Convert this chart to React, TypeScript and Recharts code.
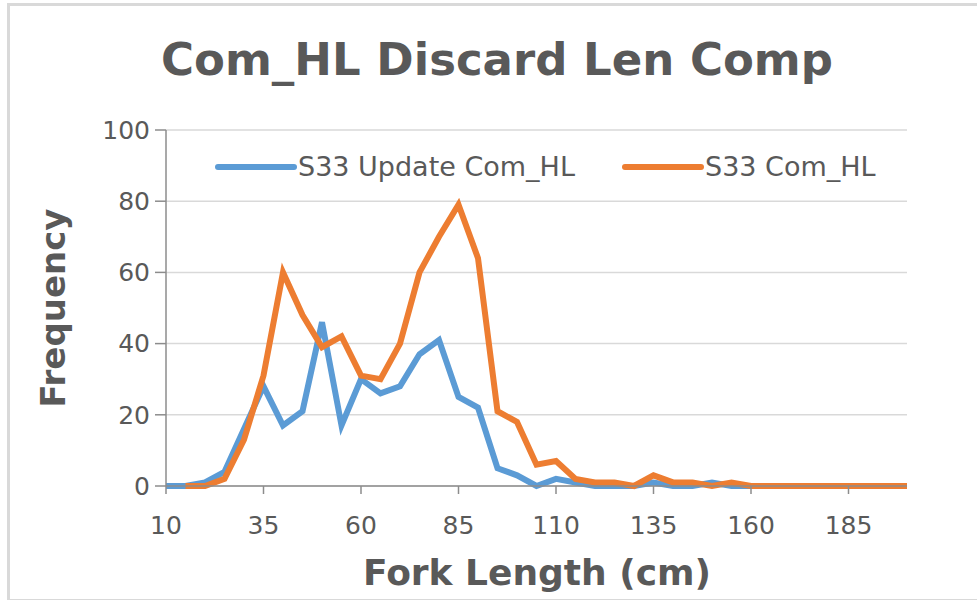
import { LineChart, Line, XAxis, YAxis, CartesianGrid } from 'recharts'

const lengths = [
  10, 15, 20, 25, 30, 35, 40, 45, 50, 55, 60, 65, 70, 75, 80, 85, 90, 95, 100, 105,
  110, 115, 120, 125, 130, 135, 140, 145, 150, 155, 160, 165, 170, 175, 180, 185, 190, 195, 200,
]

const updateComHL = [
  0, 0, 1, 4, 16, 28, 17, 21, 46, 17, 30, 26, 28, 37, 41, 25, 22, 5, 3, 0,
  2, 1, 0, 0, 0, 1, 0, 0, 1, 0, 0, 0, 0, 0, 0, 0, 0, 0, 0,
]

const comHL = [
  null, 0, 0, 2, 13, 31, 60, 48, 39, 42, 31, 30, 40, 60, 70, 79, 64, 21, 18, 6,
  7, 2, 1, 1, 0, 3, 1, 1, 0, 1, 0, 0, 0, 0, 0, 0, 0, 0, 0,
]

const yTicks = [0, 20, 40, 60, 80, 100]

const series = [
  { key: 'update', name: 'S33 Update Com_HL', color: '#5B9BD5' },
  { key: 'com', name: 'S33 Com_HL', color: '#ED7D31' },
]

const data = lengths.map((len, i) => ({ len, update: updateComHL[i], com: comHL[i] }))

const textColor = '#595959'
const font = '"DejaVu Sans", sans-serif'

// legend entry positions, matched to the picture
const legendX = [218, 625]

export default function App() {
  return (
    <div style={{ position: 'absolute', left: 0, top: 0, width: 977, height: 600, overflow: 'hidden', background: '#fff' }}>
      <div
        style={{
          position: 'absolute',
          left: 7,
          top: 3,
          width: 1000,
          height: 593,
          border: '3px solid #d9d9d9',
        }}
      />
      <LineChart
        width={977}
        height={600}
        data={data}
        margin={{ top: 130, right: 70, bottom: 84, left: 86 }}
        style={{ position: 'absolute', left: 0, top: 0, fontFamily: font }}
      >
        <CartesianGrid vertical={false} stroke="#d9d9d9" strokeWidth={1.5} />
        <XAxis
          dataKey="len"
          height={30}
          interval={4}
          tickSize={8}
          tickMargin={22}
          stroke="#8c8c8c"
          strokeWidth={1.5}
          tick={{ fill: textColor, fontSize: 25, fontFamily: font }}
        />
        <YAxis
          width={80}
          domain={[0, 100]}
          ticks={yTicks}
          tickSize={11}
          tickMargin={5}
          stroke="#8c8c8c"
          strokeWidth={1.5}
          tick={{ fill: textColor, fontSize: 25, fontFamily: font }}
        />
        {series.map((s) => (
          <Line
            key={s.key}
            dataKey={s.key}
            name={s.name}
            stroke={s.color}
            strokeWidth={6}
            dot={false}
            activeDot={false}
            type="linear"
            isAnimationActive={false}
          />
        ))}
        <text x={497} y={75} textAnchor="middle" fill={textColor} fontSize={45} fontWeight="bold" fontFamily={font}>
          Com_HL Discard Len Comp
        </text>
        <text x={537} y={585} textAnchor="middle" fill={textColor} fontSize={36} fontWeight="bold" fontFamily={font}>
          Fork Length (cm)
        </text>
        <text
          x={0}
          y={0}
          transform="translate(65 308) rotate(-90)"
          textAnchor="middle"
          fill={textColor}
          fontSize={34}
          fontWeight="bold"
          fontFamily={font}
        >
          Frequency
        </text>
        {series.map((s, i) => (
          <g key={`lg-${s.key}`}>
            <line x1={legendX[i]} x2={legendX[i] + 76} y1={167} y2={167} stroke={s.color} strokeWidth={6} strokeLinecap="round" />
            <text x={legendX[i] + 80} y={176} fill={textColor} fontSize={27} fontFamily={font}>
              {s.name}
            </text>
          </g>
        ))}
      </LineChart>
    </div>
  )
}
